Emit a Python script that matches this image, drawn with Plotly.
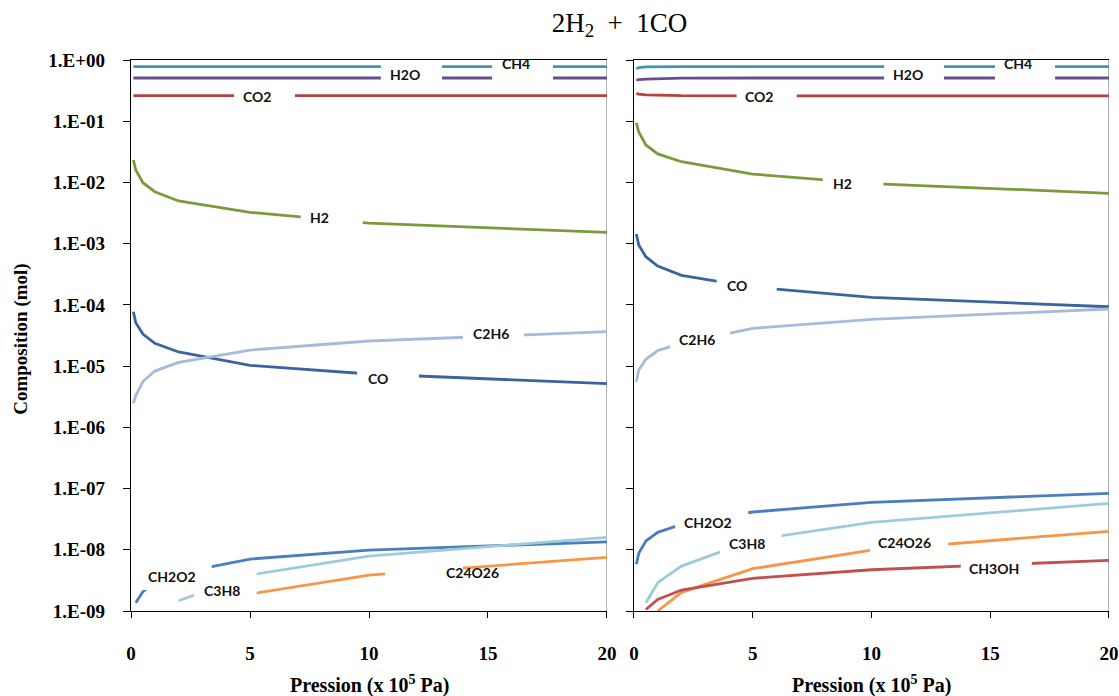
import math
import plotly.graph_objects as go

# ---------------- data ----------------
pression = [0.1, 0.2, 0.5, 1, 2, 5, 10, 20]

# left panel
ch4_a = [0.777, 0.777, 0.777, 0.777, 0.777, 0.777, 0.777, 0.777]
h2o_a = [0.508, 0.508, 0.508, 0.508, 0.508, 0.508, 0.508, 0.508]
co2_a = [0.262, 0.262, 0.262, 0.262, 0.262, 0.262, 0.262, 0.262]
h2_a = [2.33e-2, 1.6e-2, 9.9e-3, 7.06e-3, 4.98e-3, 3.25e-3, 2.16e-3, 1.53e-3]
co_a = [7.74e-5, 5.12e-5, 3.34e-5, 2.36e-5, 1.70e-5, 1.03e-5, 7.43e-6, 5.16e-6]
c2h6_a = [2.47e-6, 3.3e-6, 5.6e-6, 8.3e-6, 1.15e-5, 1.83e-5, 2.57e-5, 3.65e-5]
ch2o2_a = [None, 1.36e-9, 2.07e-9, 2.99e-9, 4.16e-9, 7.06e-9, 9.9e-9, 1.35e-8]
c3h8_a = [None, None, None, None, 1.47e-9, 3.87e-9, 7.9e-9, 1.6e-8]
c24o26_a = [None, None, None, None, None, 1.9e-9, 3.87e-9, 7.53e-9]

# right panel
ch4_b = [0.72, 0.75, 0.77, 0.777, 0.777, 0.777, 0.777, 0.777]
h2o_b = [0.47, 0.478, 0.488, 0.497, 0.505, 0.508, 0.508, 0.508]
co2_b = [0.285, 0.277, 0.27, 0.265, 0.261, 0.26, 0.26, 0.26]
h2_b = [9.45e-2, 6.67e-2, 4.09e-2, 2.92e-2, 2.18e-2, 1.37e-2, 9.6e-3, 6.65e-3]
co_b = [1.44e-3, 9.5e-4, 6.12e-4, 4.32e-4, 3.04e-4, 1.95e-4, 1.33e-4, 9.33e-5]
c2h6_b = [5.56e-6, 8.63e-6, 1.29e-5, 1.79e-5, 2.38e-5, 4.14e-5, 5.81e-5, 8.57e-5]
ch2o2_b = [5.79e-9, 8.75e-9, 1.39e-8, 1.93e-8, 2.59e-8, 4.14e-8, 5.96e-8, 8.36e-8]
c3h8_b = [None, None, 1.36e-9, 2.9e-9, 5.42e-9, 1.44e-8, 2.8e-8, 5.74e-8]
c24o26_b = [None, None, None, 1.0e-9, 2.02e-9, 4.9e-9, 9.9e-9, 2.0e-8]
ch3oh_b = [None, None, 1.06e-9, 1.55e-9, 2.2e-9, 3.42e-9, 4.72e-9, 6.73e-9]

y_tickvals = [1e-9, 1e-8, 1e-7, 1e-6, 1e-5, 1e-4, 1e-3, 1e-2, 1e-1, 1]
y_ticktext = ["1.E-09", "1.E-08", "1.E-07", "1.E-06", "1.E-05",
              "1.E-04", "1.E-03", "1.E-02", "1.E-01", "1.E+00"]
x_tickvals = [0, 5, 10, 15, 20]

colors = {
    "CH4": "#3E97AB", "H2O": "#664E8C", "CO2": "#B4423F", "H2": "#7A9A3D",
    "CO": "#3A64A0", "C2H6": "#A8BADB", "CH2O2": "#4A7EBE", "C3H8": "#9DCBD9",
    "C24O26": "#F79646", "CH3OH": "#C0504D",
}

left_series = [("CH4", ch4_a), ("H2O", h2o_a), ("CO2", co2_a), ("H2", h2_a),
               ("CO", co_a), ("C2H6", c2h6_a), ("CH2O2", ch2o2_a),
               ("C3H8", c3h8_a), ("C24O26", c24o26_a)]
right_series = [("CH4", ch4_b), ("H2O", h2o_b), ("CO2", co2_b), ("H2", h2_b),
                ("CO", co_b), ("C2H6", c2h6_b), ("CH2O2", ch2o2_b),
                ("C3H8", c3h8_b), ("C24O26", c24o26_b), ("CH3OH", ch3oh_b)]

# inline labels: name, text x, text y, box x0, x1, box y0, y1 (data units)
left_labels = [
    ("CH4", 16.18, 0.893, 15.17, 17.73, 0.963, 0.391),
    ("H2O", 11.51, 0.569, 10.50, 13.07, 0.963, 0.391),
    ("CO2", 5.29, 0.249, 4.33, 6.89, 0.376, 0.177),
    ("H2", 7.94, 2.72e-3, 7.13, 9.74, 4.61e-3, 1.61e-3),
    ("C2H6", 15.13, 3.47e-5, 13.95, 16.51, 5.66e-5, 2.13e-5),
    ("CO", 10.38, 6.39e-6, 9.50, 12.10, 1.04e-5, 3.92e-6),
    ("CH2O2", 1.72, 3.73e-9, 0.50, 3.39, 6.08e-9, 2.2e-9),
    ("C3H8", 3.82, 2.2e-9, 2.65, 5.28, 4.33e-9, 1.3e-9),
    ("C24O26", 14.33, 4.33e-9, 10.67, 13.95, 7.06e-9, 2.66e-9),
]
right_labels = [
    ("CH4", 16.17, 0.893, 15.20, 17.73, 0.963, 0.391),
    ("H2O", 11.54, 0.569, 10.53, 13.05, 0.963, 0.391),
    ("CO2", 5.26, 0.249, 4.32, 6.85, 0.376, 0.177),
    ("H2", 8.76, 9.79e-3, 7.95, 10.50, 1.6e-2, 6.0e-3),
    ("CO", 4.34, 2.11e-4, 3.48, 6.01, 3.44e-4, 1.29e-4),
    ("C2H6", 2.65, 2.77e-5, 1.52, 4.04, 4.52e-5, 1.7e-5),
    ("CH2O2", 3.12, 2.84e-8, 1.73, 4.81, 4.63e-8, 1.74e-8),
    ("C3H8", 4.76, 1.29e-8, 3.62, 6.22, 2.1e-8, 7.9e-9),
    ("C24O26", 11.41, 1.34e-8, 9.94, 13.23, 2.18e-8, 8.2e-9),
    ("CH3OH", 15.16, 5.04e-9, 13.76, 16.75, 8.2e-9, 3.09e-9),
]

# ---------------- figure ----------------
fig = go.Figure()

for panel, series in (("1", left_series), ("2", right_series)):
    xa = "x" if panel == "1" else "x2"
    ya = "y" if panel == "1" else "y2"
    for name, vals in series:
        fig.add_trace(go.Scatter(
            x=pression, y=vals, mode="lines", name=name,
            line=dict(color=colors[name], width=2.8),
            xaxis=xa, yaxis=ya, showlegend=False, connectgaps=False,
        ))

shapes = []
annotations = []
label_font = dict(family="Lato", size=14, color="#111111", weight="bold")
for xa, ya, labels in (("x", "y", left_labels), ("x2", "y2", right_labels)):
    for name, tx, ty, bx0, bx1, by0, by1 in labels:
        shapes.append(dict(type="rect", xref=xa, yref=ya, x0=bx0, x1=bx1,
                           y0=by0, y1=by1, fillcolor="white",
                           line=dict(width=0), layer="above"))
        annotations.append(dict(text=name, xref=xa, yref=ya, x=tx,
                                y=math.log10(ty), showarrow=False,
                                font=label_font, xanchor="center",
                                yanchor="middle"))
    # right border of each panel
    shapes.append(dict(type="line", xref=xa, yref=ya + " domain", x0=20, x1=20,
                       y0=0, y1=1, line=dict(color="#8C8C8C", width=1.3),
                       layer="below"))

serif_bold = dict(family="Liberation Serif", size=19, color="black", weight="bold")

for xa in ("x", "x2"):
    annotations.append(dict(text="Pression (x 10<sup>5</sup> Pa)", xref=xa,
                            yref="paper", x=10, y=-0.134, showarrow=False,
                            font=dict(family="Liberation Serif", size=20,
                                      color="black", weight="bold"),
                            xanchor="center", yanchor="middle"))
annotations.append(dict(text="Composition (mol)", xref="paper", yref="paper",
                        x=-0.1125, y=0.494, textangle=-90, showarrow=False,
                        font=serif_bold, xanchor="center", yanchor="middle"))

xaxis_common = dict(range=[0, 20], tickvals=x_tickvals, ticks="outside",
                    ticklen=6, tickcolor="black", showline=True,
                    linecolor="black", linewidth=1.3, mirror=True,
                    showgrid=False, zeroline=False, tickfont=serif_bold,
                    ticklabelstandoff=19, fixedrange=True, automargin=False,
                    ticklabeloverflow="allow")
yaxis_common = dict(type="log", range=[-9, 0], tickvals=y_tickvals,
                    ticktext=y_ticktext, ticks="outside", ticklen=7,
                    tickcolor="black", showline=True, linecolor="black",
                    linewidth=1.3, showgrid=False, zeroline=False,
                    tickfont=serif_bold, ticklabelstandoff=14, automargin=False)

fig.update_layout(
    width=1119, height=696, autosize=False,
    margin=dict(l=131, r=10, t=60, b=85, autoexpand=False),
    paper_bgcolor="white", plot_bgcolor="white",
    xaxis=dict(domain=[0, 0.4867], anchor="y", **xaxis_common),
    xaxis2=dict(domain=[0.5143, 1], anchor="y2", **xaxis_common),
    yaxis=dict(domain=[0, 1], anchor="x", **yaxis_common),
    yaxis2=dict(domain=[0, 1], anchor="x2", showticklabels=False,
                **{k: v for k, v in yaxis_common.items()
                   if k not in ("tickfont", "ticklabelstandoff")}),
    title=dict(text="2H<sub>2</sub>&nbsp;&nbsp;+&nbsp;&nbsp;1CO",
               x=0.5536, xanchor="center", y=0.968, yanchor="middle",
               font=dict(family="Liberation Serif", size=27, color="black")),
    shapes=shapes,
    annotations=annotations,
    showlegend=False,
)

fig.write_html(
    "out.html",
    config={"responsive": False, "displayModeBar": False},
    post_script="document.body.style.margin='0px';"
                "document.body.style.overflow='hidden';",
)
